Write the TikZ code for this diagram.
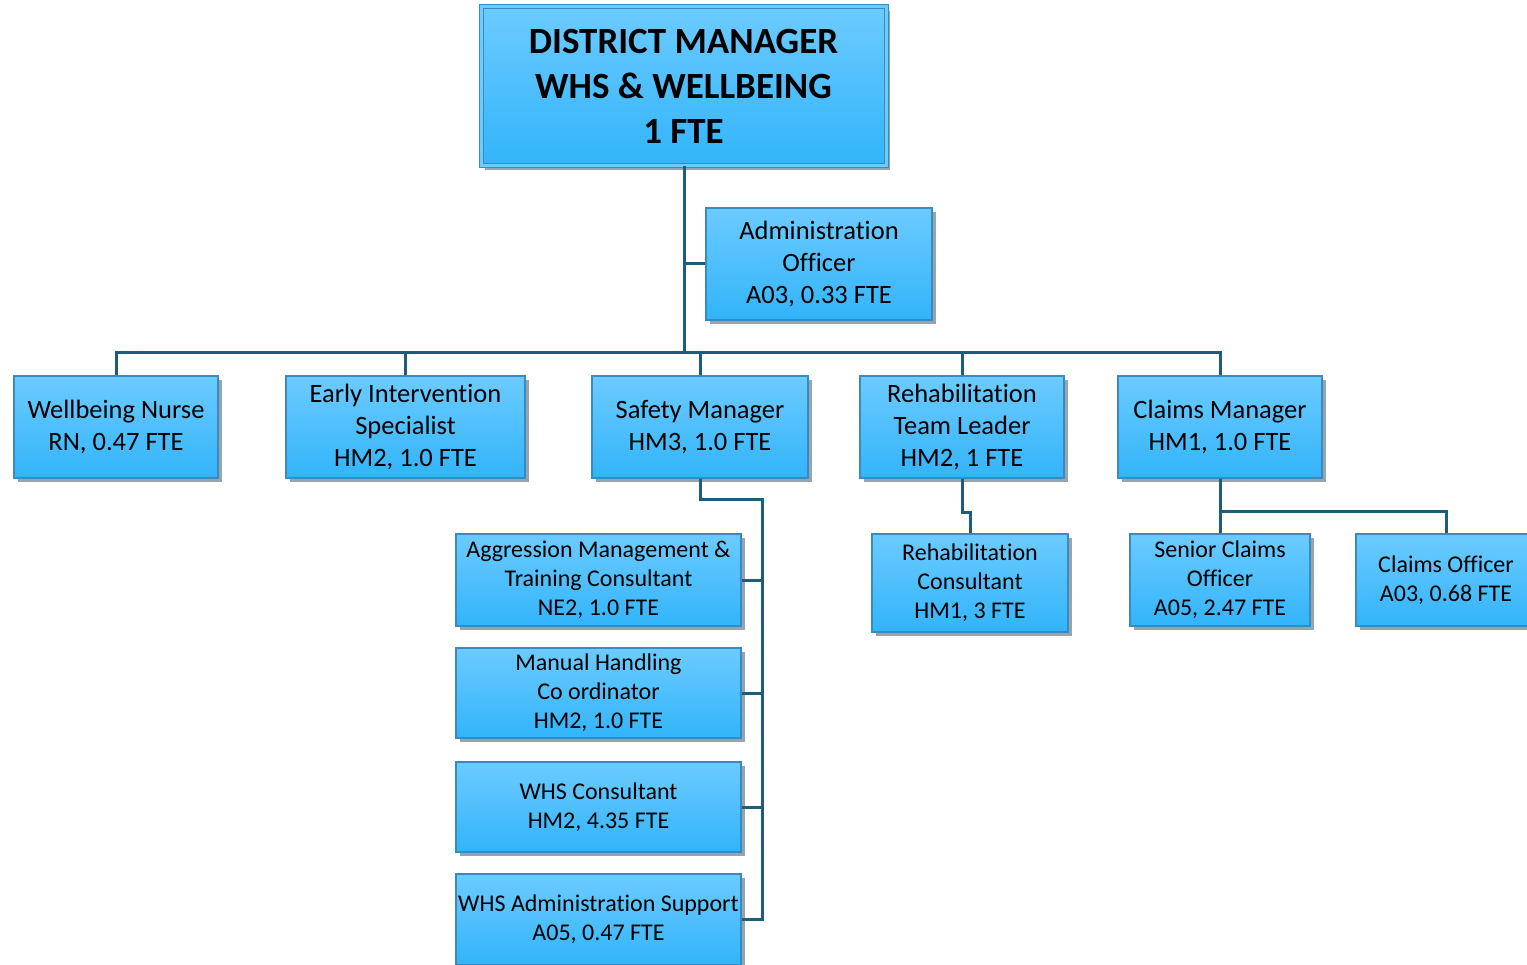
\documentclass[tikz,border=0pt]{standalone}
\usepackage{fontspec}
\setmainfont{Carlito}[RawFeature={-liga;-clig;-calt}]
\usepackage{xcolor}
\usetikzlibrary{positioning, shadows, calc}

\definecolor{boxtop}{RGB}{108,203,255}
\definecolor{boxbot}{RGB}{50,180,250}
\definecolor{boxline}{RGB}{56,138,194}
\definecolor{linkcol}{RGB}{30,92,126}
\definecolor{shade}{RGB}{150,164,178}

\tikzset{
  post/.style = {draw=boxline, line width=1.2pt, top color=boxtop, bottom color=boxbot,
                 inner sep=0pt, align=center,
                 drop shadow={shadow xshift=4pt, shadow yshift=-4pt, fill=shade, opacity=1}},
  level/.style = {post, font=\fontsize{26.5}{32}\selectfont},
  sub/.style = {post, font=\fontsize{24}{29}\selectfont},
  link/.style = {draw=linkcol, line width=3pt}
}

\begin{document}
\begin{tikzpicture}[x=1pt, y=-1pt]
                \useasboundingbox (0,0) rectangle (1527,965);
                % Nodes
                \node[post, double=boxtop, double distance=3pt, line width=1pt,
                      font=\fontsize{37}{45}\selectfont\bfseries,
                      minimum width=405pt, minimum height=159pt] (dm) at (683.5,86.5)
                      {DISTRICT MANAGER\\WHS \& WELLBEING\\1 FTE};
                \node[level, minimum width=226pt, minimum height=112pt] (admin) at (819,264)
                      {Administration\\Officer\\A03, 0.33 FTE};

                \node[level, minimum width=204pt, minimum height=102pt] (nurse) at (116,427)
                      {Wellbeing Nurse\\RN, 0.47 FTE};
                \node[level, minimum width=239pt, minimum height=102pt] (eis) at (405.5,427)
                      {Early Intervention\\Specialist\\HM2, 1.0 FTE};
                \node[level, minimum width=216pt, minimum height=102pt] (safety) at (700,427)
                      {Safety Manager\\HM3, 1.0 FTE};
                \node[level, minimum width=204pt, minimum height=102pt] (rtl) at (962,427)
                      {Rehabilitation\\Team Leader\\HM2, 1 FTE};
                \node[level, minimum width=204pt, minimum height=102pt] (cm) at (1220,427)
                      {Claims Manager\\HM1, 1.0 FTE};

                \node[sub, minimum width=285pt, minimum height=92pt] (agg) at (598.5,580)
                      {Aggression Management \&\\Training Consultant\\NE2, 1.0 FTE};
                \node[sub, minimum width=285pt, minimum height=90pt] (mh) at (598.5,693)
                      {Manual Handling\\Co ordinator\\HM2, 1.0 FTE};
                \node[sub, minimum width=285pt, minimum height=90pt] (whsc) at (598.5,807)
                      {WHS Consultant\\HM2, 4.35 FTE};
                \node[sub, minimum width=285pt, minimum height=91pt] (support) at (598.5,919.5)
                      {WHS Administration Support\\A05, 0.47 FTE};

                \node[sub, minimum width=196pt, minimum height=98pt] (rc) at (970,583)
                      {Rehabilitation\\Consultant\\HM1, 3 FTE};
                \node[sub, minimum width=180pt, minimum height=92pt] (sco) at (1220,580)
                      {Senior Claims\\Officer\\A05, 2.47 FTE};
                \node[sub, minimum width=180pt, minimum height=92pt] (co) at (1446,580)
                      {Claims Officer\\A03, 0.68 FTE};

                % Lines
                \coordinate (bus) at (684,353);
                \coordinate (sm) at (762,500);
                \coordinate (cj) at (1220,512);
                \draw[link] (dm.south -| bus) -- (bus);
                \draw[link] (bus |- admin.west) -- (admin.west);
                \draw[link] (bus) -| (nurse.north);
                \draw[link] (bus) -| (eis.north);
                \draw[link] (bus) -| (safety.north);
                \draw[link] (bus) -| (rtl.north);
                \draw[link] (bus) -| (cm.north);

                \draw[link] (safety.south) |- (sm) |- (support.east);
                \draw[link] (sm |- agg.east) -- (agg.east);
                \draw[link] (sm |- mh.east) -- (mh.east);
                \draw[link] (sm |- whsc.east) -- (whsc.east);

                \draw[link] (rtl.south) -- ++(0,34) -| (rc.north);
                \draw[link] (cm.south) -- (cj) -- (sco.north);
                \draw[link] (cj) -| (co.north);
            \end{tikzpicture}
\end{document}
